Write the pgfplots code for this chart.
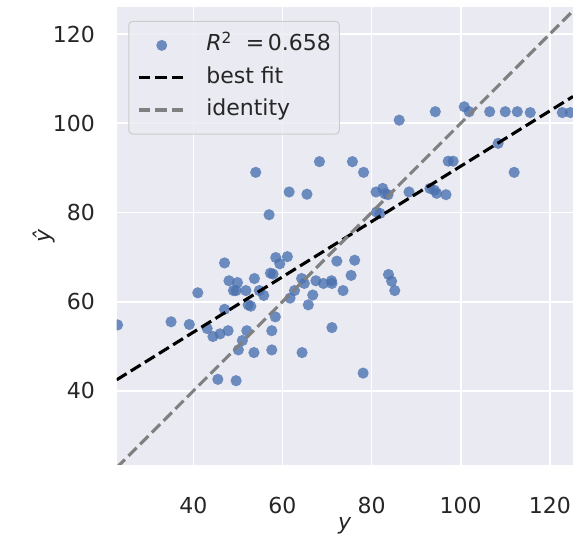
\documentclass[border=0pt]{standalone}
\usepackage{fontspec}
\setmainfont{DejaVu Sans}
\usepackage{pgfplots}
\pgfplotsset{compat=1.18}
\usetikzlibrary{calc}
\definecolor{sbbg}{HTML}{EAEAF2}
\definecolor{sbblue}{HTML}{4C72B0}
\definecolor{sbtext}{HTML}{262626}
\definecolor{idgray}{HTML}{808080}

\pgfplotsset{
  scatleg/.style={legend image code/.code={\path[draw=none] (0pt,0pt) -- (44.3pt,0pt);
    \path[draw=none, fill=sbblue, fill opacity=0.8] (23pt,0pt) circle (5.5pt);}},
  lineleg/.style={legend image code/.code={\draw[##1] (0pt,0pt) -- (44.3pt,0pt);}},
  dashline/.style={line width=3.1pt, dash pattern=on 11.6pt off 5pt},
}

% observed y vs predicted y-hat
\pgfplotstableread{
x y
23.0 54.8
35.0 55.5
39.1 54.9
41.0 62.0
43.1 54.0
44.4 52.2
46.0 52.8
47.8 53.5
45.5 42.6
49.6 42.3
47.0 68.7
48.0 64.7
49.9 64.3
49.0 62.5
49.6 62.5
51.8 62.5
53.7 65.2
54.8 62.5
55.8 61.4
57.3 66.4
57.9 66.2
58.4 56.6
57.6 53.5
57.6 49.2
52.3 59.3
52.9 59.0
47.0 58.3
52.0 53.5
51.0 51.3
50.1 49.2
53.6 48.6
64.4 48.6
61.7 60.8
62.7 62.5
64.3 65.2
64.9 64.1
66.8 61.5
65.8 59.3
67.5 64.7
69.2 64.1
71.0 64.7
71.1 64.1
72.2 69.1
73.6 62.5
75.4 65.9
76.2 69.3
71.1 54.2
78.1 44.0
58.5 69.9
61.1 70.1
59.4 68.5
54.0 89.0
68.3 91.4
75.7 91.4
78.2 89.0
61.5 84.6
65.5 84.1
57.0 79.5
81.0 84.6
82.5 85.4
83.0 84.2
83.7 84.0
88.4 84.6
81.1 80.1
81.9 79.8
83.8 66.1
84.5 64.6
85.2 62.5
86.2 100.7
94.3 102.6
100.8 103.7
101.9 102.6
106.5 102.6
110.0 102.6
112.7 102.6
115.6 102.4
122.8 102.4
124.6 102.4
108.4 95.5
112.0 89.0
97.2 91.5
98.3 91.5
93.1 85.4
94.1 85.0
94.6 84.3
96.7 84.0
}\pts

\begin{document}
\begin{tikzpicture}
\begin{axis}[
  scale only axis, width=456.3pt, height=457.7pt,
  xmin=22.8, xmax=125.2, ymin=23.4, ymax=126.0,
  axis background/.style={fill=sbbg},
  axis line style={draw=none},
  grid=major, major grid style={white, line width=1.6pt},
  major tick length=0pt,
  xtick={40,60,...,120}, ytick={40,60,...,120},
  /pgf/number format/assume math mode=true,
  tick label style={font=\fontsize{22}{22}\selectfont, text=sbtext, inner sep=0pt},
  xticklabel style={anchor=north, yshift=-31.7pt},
  yticklabel style={anchor=east, xshift=-21.7pt},
  xlabel={\textit{y}}, ylabel={\textit{\^{y}}},
  label style={font=\fontsize{22}{22}\selectfont, text=sbtext},
  xlabel style={at={(axis description cs:0.5,-0.132)}, anchor=center},
  ylabel style={at={(axis description cs:-0.16,0.5)}, anchor=center},
  clip marker paths=true,
  legend cell align=left,
  legend style={at={(0,1)}, anchor=north west, xshift=11.6pt, yshift=-13.5pt,
    fill=sbbg, fill opacity=0.8, draw opacity=1, text opacity=1,
    draw=black!20, rounded corners=4pt, line width=1pt,
    font=\fontsize{22}{22}\selectfont, text=sbtext,
    inner xsep=8.4pt, inner ysep=13.6pt, row sep=11.3pt,
    nodes={inner sep=0pt, text height=16pt, text depth=5pt},
    /tikz/every odd column/.append style={column sep=21.7pt}},
]
\addplot[only marks, mark=*, mark size=5.6pt,
  mark options={draw=sbblue, draw opacity=0, fill=sbblue, fill opacity=0.8}, scatleg]
  table[x=x, y=y] {\pts};
\addlegendentry{\textit{R}\textsuperscript{2}\ \ =\,0.658}
\addplot[black, dashline, lineleg]
  coordinates {(22.8,42.5) (125.2,106.0)};
\addlegendentry{best fit}
\addplot[idgray, dashline, lineleg]
  coordinates {(22.8,22.8) (126,126)};
\addlegendentry{identity}
\end{axis}
\pgfresetboundingbox
\path[use as bounding box] ($(current axis.south west)+(-116.7pt,-72pt)$) rectangle ($(current axis.north east)+(0pt,7.3pt)$);
\end{tikzpicture}
\end{document}
